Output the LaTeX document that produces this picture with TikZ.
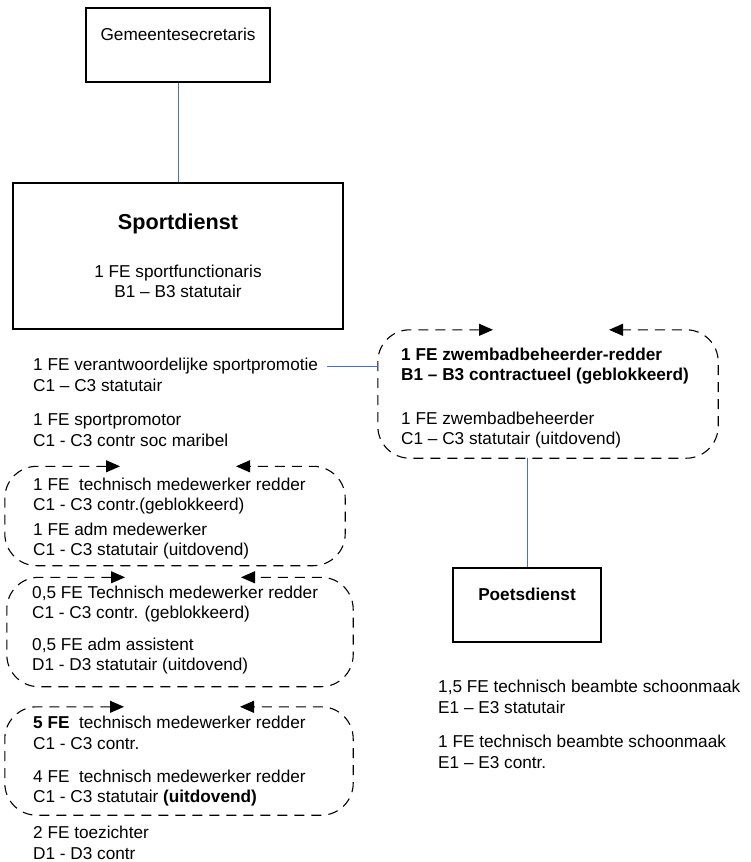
\documentclass[tikz,border=0pt]{standalone}
\usepackage{fontspec}
\setmainfont{Liberation Sans}
\usetikzlibrary{arrows.meta,calc}
\definecolor{linkblue}{RGB}{68,114,196}

\begin{document}
\begin{tikzpicture}[x=1pt, y=-1pt,
    font=\fontsize{17.2}{20.5}\selectfont,
    box/.style={draw, line width=1.2pt, align=center},
    txt/.style={anchor=west, align=left, inner sep=0pt},
    grp/.style={inner sep=0pt},
    grpline/.style={line width=1.1pt, dash pattern=on 10pt off 7pt,
      rounded corners=32pt, {Triangle[length=14pt,width=12pt]}-{Triangle[length=14pt,width=12pt]}},
    link/.style={color=linkblue, line width=1pt}]

      \useasboundingbox (0,0) rectangle (750,862);

      \node[box, minimum width=184pt, minimum height=74pt] (gem) at (178,45) {Gemeentesecretaris\\ \mbox{}};
      \node[box, minimum width=330pt, minimum height=146pt] (sd) at (178,256)
        {{\fontsize{21.6}{26}\selectfont\bfseries Sportdienst}\\[27pt] 1 FE sportfunctionaris\\ B1 – B3 statutair};
      \node[box, minimum width=148pt, minimum height=74pt] (pd) at (527,605) {\textbf{Poetsdienst}\\ \mbox{}};

      \node[grp, minimum width=340pt, minimum height=128pt] (zw) at (548,394) {};
      \node[grp, minimum width=340pt, minimum height=99pt] (g1) at (175,516) {};
      \node[grp, minimum width=346pt, minimum height=109pt] (g2) at (180,632) {};
      \node[grp, minimum width=348pt, minimum height=108pt] (g3) at (179,761) {};

      \node[txt] (spv) at (33,375) {1 FE verantwoordelijke sportpromotie\\ C1 – C3 statutair};
      \node[txt] (spm) at (33,430) {1 FE sportpromotor\\ C1 - C3 contr soc maribel};
      \node[txt] (tmr1) at (33,496) {1 FE~ technisch medewerker redder\\ C1 - C3 contr.(geblokkeerd)};
      \node[txt] (adm1) at (33,541) {1 FE adm medewerker\\ C1 - C3 statutair (uitdovend)};
      \node[txt] (tmr2) at (32,604) {0,5 FE Technisch medewerker redder\\ C1 - C3 contr. (geblokkeerd)};
      \node[txt] (adm2) at (32,656) {0,5 FE adm assistent\\ D1 - D3 statutair (uitdovend)};
      \node[txt] (tmr3) at (33,733) {\textbf{5 FE}~ technisch medewerker redder\\ C1 - C3 contr.};
      \node[txt] (tmr4) at (33,788) {4 FE~ technisch medewerker redder\\ C1 - C3 statutair \textbf{(uitdovend)}};
      \node[txt] (tz) at (33,843) {2 FE toezichter\\ D1 - D3 contr};

      \node[txt, font=\fontsize{17.2}{20.5}\selectfont\bfseries] (zbr) at (401,366)
        {1 FE zwembadbeheerder-redder\\ B1 – B3 contractueel (geblokkeerd)};
      \node[txt] (zb) at (401,430) {1 FE zwembadbeheerder\\ C1 – C3 statutair (uitdovend)};

      \node[txt] (tb1) at (438,697) {1,5 FE technisch beambte schoonmaak\\ E1 – E3 statutair};
      \node[txt] (tb2) at (438,752) {1 FE technisch beambte schoonmaak\\ E1 – E3 contr.};

      % dashed groups, open at the top
      \foreach \g in {zw,g1,g2,g3}
        \draw[grpline] ($(\g.north)+(-55,0)$) -- (\g.north west) -- (\g.south west)
          -- (\g.south east) -- (\g.north east) -- ($(\g.north)+(61,0)$);

      \path[link]
      (gem) edge (sd)
      ([xshift=9pt,yshift=9pt]spv.east) edge ([yshift=9pt]spv.east -| zw.west)
      (pd) edge (pd.north |- zw.south);
    \end{tikzpicture}
\end{document}
